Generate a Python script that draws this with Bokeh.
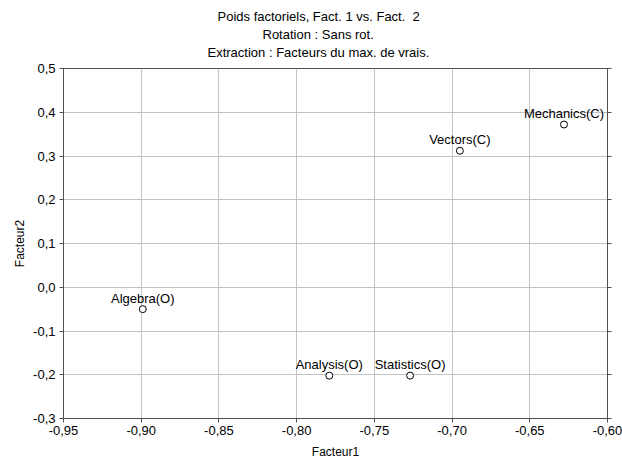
from bokeh.plotting import figure
from bokeh.models import (ColumnDataSource, LinearAxis, Title, CustomJSTickFormatter,
                          FixedTicker, Range1d, LabelSet)
from bokeh.core.properties import value
from bokeh.embed import file_html
from bokeh.resources import INLINE

names = ["Algebra(O)", "Analysis(O)", "Statistics(O)", "Vectors(C)", "Mechanics(C)"]
facteur1 = [-0.899, -0.779, -0.727, -0.695, -0.628]
facteur2 = [-0.050, -0.202, -0.202, 0.312, 0.372]
x_ticks = [-0.95, -0.90, -0.85, -0.80, -0.75, -0.70, -0.65, -0.60]
y_ticks = [-0.3, -0.2, -0.1, 0.0, 0.1, 0.2, 0.3, 0.4, 0.5]
title_lines = ["Poids factoriels, Fact. 1 vs. Fact.\u00a0 2",
               "Rotation : Sans rot.",
               "Extraction : Facteurs du max. de vrais."]
# horizontal offsets (px from frame left) that centre each line at x≈318
title_offsets = [154, 199, 144]

FONT = "Liberation Sans"
AX = "#505050"

p = figure(width=622, height=461, output_backend="svg", toolbar_location=None,
           x_range=Range1d(-0.95, -0.60), y_range=Range1d(-0.3, 0.5),
           x_axis_label="Facteur1", y_axis_label="Facteur2",
           min_border_left=63, min_border_right=15, min_border_top=68, min_border_bottom=43)
p.background_fill_color = "white"
p.border_fill_color = "white"
p.outline_line_color = AX
p.outline_line_width = 1

# white (invisible) spacer between the title block and the frame
p.add_layout(Title(text=".", text_font=FONT, text_font_size="1px", text_color="white",
                   standoff=5), "above")
for line, off in reversed(list(zip(title_lines, title_offsets))):
    p.add_layout(Title(text=line, align="left", offset=off, standoff=0.75,
                       text_font=FONT, text_font_size="13px", text_font_style="normal",
                       text_color="black"), "above")

fx = CustomJSTickFormatter(code="if (Math.abs(tick) < 1e-9) { tick = 0; } return tick.toFixed(2).replace('.', ',');")
fy = CustomJSTickFormatter(code="if (Math.abs(tick) < 1e-9) { tick = 0; } return tick.toFixed(1).replace('.', ',');")
blank = CustomJSTickFormatter(code="return '';")

for ax in p.xaxis:
    ax.ticker = FixedTicker(ticks=x_ticks)
    ax.formatter = fx
for ax in p.yaxis:
    ax.ticker = FixedTicker(ticks=y_ticks)
    ax.formatter = fy

right = LinearAxis(ticker=FixedTicker(ticks=y_ticks), formatter=blank)
p.add_layout(right, "right")

for ax in [p.xaxis[0], p.yaxis[0], right]:
    ax.axis_line_color = AX
    ax.major_tick_line_color = AX
    ax.major_tick_out = 4
    ax.major_tick_in = 0
    ax.minor_tick_line_color = None
    ax.major_label_text_font = FONT
    ax.major_label_text_font_size = "13px"
    ax.major_label_text_color = "black"
    ax.axis_label_text_font = FONT
    ax.axis_label_text_font_size = "12px"
    ax.axis_label_text_font_style = "normal"
    ax.axis_label_text_color = "black"
right.major_label_standoff = 0
p.xaxis[0].major_label_standoff = 3
p.xaxis[0].axis_label_standoff = 7
p.yaxis[0].major_label_standoff = 4
p.yaxis[0].axis_label_standoff = 3

p.xgrid.grid_line_color = "#c4c4c4"
p.ygrid.grid_line_color = "#c4c4c4"
p.xgrid.ticker = FixedTicker(ticks=x_ticks)
p.ygrid.ticker = FixedTicker(ticks=y_ticks)

src = ColumnDataSource(dict(x=facteur1, y=facteur2, name=names))
p.scatter("x", "y", source=src, size=7, marker="circle", fill_color="white",
          line_color="black", line_width=1)
labels = LabelSet(x="x", y="y", text="name", source=src, text_align="center",
                  text_baseline="middle", y_offset=11, text_font=value(FONT),
                  text_font_size="13px", text_color="black")
p.add_layout(labels)

open("out.html", "w").write(file_html(p, INLINE))
